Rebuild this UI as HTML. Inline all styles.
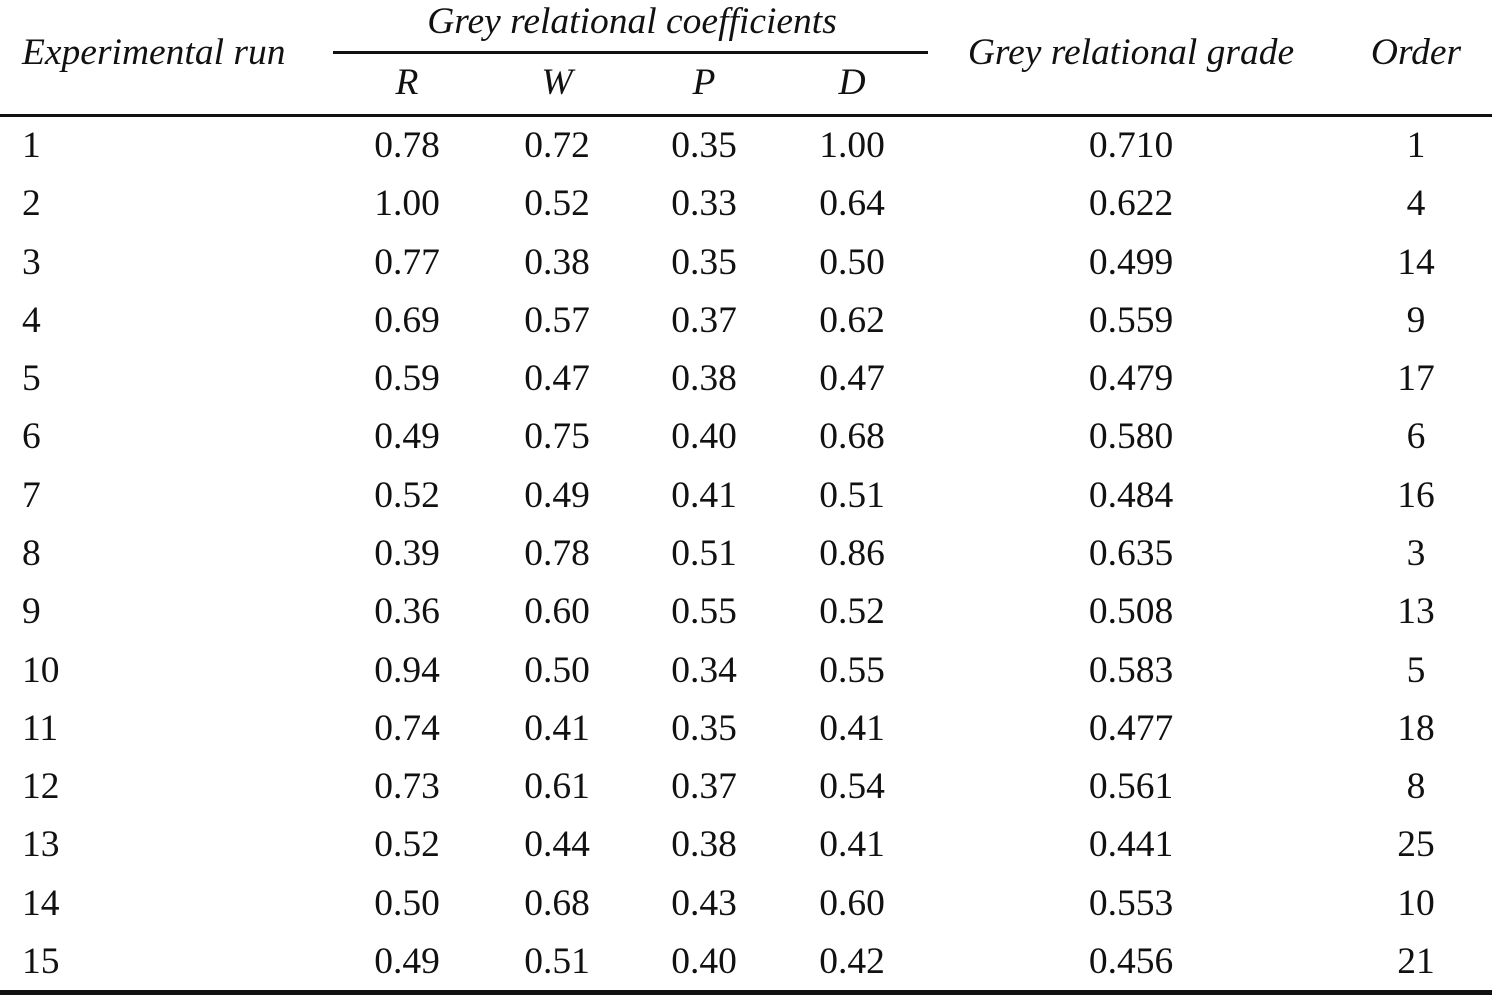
<!DOCTYPE html>
<html><head><style>
html,body{margin:0;padding:0;background:#fff;}
body{width:1492px;height:998px;position:relative;overflow:hidden;font-family:"Liberation Serif",serif;font-size:37.5px;color:#111;}
.t{position:absolute;height:40px;line-height:40px;white-space:nowrap;}
.c{width:500px;text-align:center;}
.i{font-style:italic;}
.r{position:absolute;background:#111;}
</style></head><body>
<div class="t i" style="left:22px;top:33px;">Experimental run</div>
<div class="t i c" style="left:382px;top:2px;">Grey relational coefficients</div>
<div class="r" style="left:333px;top:51px;width:595px;height:3px;"></div>
<div class="t i c" style="left:157px;top:63px;">R</div>
<div class="t i c" style="left:307px;top:63px;">W</div>
<div class="t i c" style="left:454px;top:63px;">P</div>
<div class="t i c" style="left:602px;top:63px;">D</div>
<div class="t i c" style="left:881px;top:33px;">Grey relational grade</div>
<div class="t i c" style="left:1166px;top:33px;">Order</div>
<div class="r" style="left:0;top:114px;width:1492px;height:3px;"></div>
<div id="rows"></div>
<div class="r" style="left:0;top:990px;width:1492px;height:5px;"></div>
<script>
(function(){
var d=[["1","0.78","0.72","0.35","1.00","0.710","1"],["2","1.00","0.52","0.33","0.64","0.622","4"],["3","0.77","0.38","0.35","0.50","0.499","14"],["4","0.69","0.57","0.37","0.62","0.559","9"],["5","0.59","0.47","0.38","0.47","0.479","17"],["6","0.49","0.75","0.40","0.68","0.580","6"],["7","0.52","0.49","0.41","0.51","0.484","16"],["8","0.39","0.78","0.51","0.86","0.635","3"],["9","0.36","0.60","0.55","0.52","0.508","13"],["10","0.94","0.50","0.34","0.55","0.583","5"],["11","0.74","0.41","0.35","0.41","0.477","18"],["12","0.73","0.61","0.37","0.54","0.561","8"],["13","0.52","0.44","0.38","0.41","0.441","25"],["14","0.50","0.68","0.43","0.60","0.553","10"],["15","0.49","0.51","0.40","0.42","0.456","21"]];
var cx=[407,557,704,852,1131,1416],h="";
for(var i=0;i<d.length;i++){var yy=Math.round(146+i*58.29-20);
h+='<div class="t" style="left:22px;top:'+yy+'px">'+d[i][0]+'</div>';
for(var j=1;j<7;j++)h+='<div class="t c" style="left:'+(cx[j-1]-250)+'px;top:'+yy+'px">'+d[i][j]+'</div>';}
document.getElementById("rows").innerHTML=h;
})();
</script>
</body></html>
